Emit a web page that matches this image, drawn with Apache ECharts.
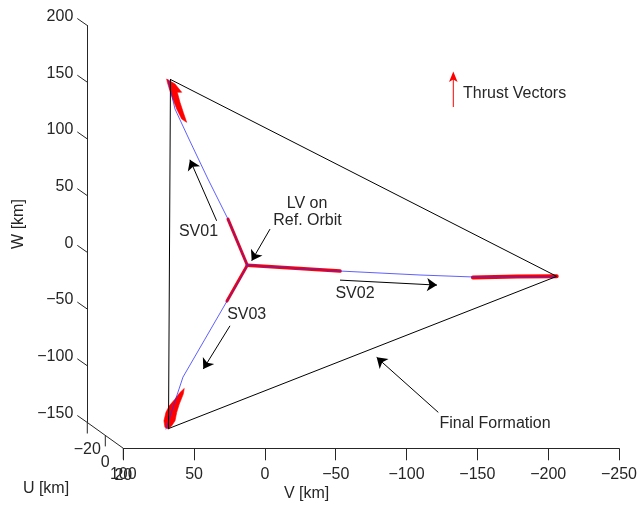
<!DOCTYPE html>
<html><head><meta charset="utf-8">
<script src="https://cdn.jsdelivr.net/npm/echarts@6/dist/echarts.min.js"></script>
<style>html,body{margin:0;padding:0;background:#fff}#c{width:640px;height:508px}</style>
</head><body><div id="c"></div>
<script>
// ---- axis ticks ----
const vTicks = [100, 50, 0, -50, -100, -150, -200, -250];
const wTicks = [200, 150, 100, 50, 0, -50, -100, -150];
const uTicks = [-20, 0, 20];

// ---- trajectories [V, W] km (seen on the U = 0 plane) ----
const sv01Path = [[0,0],[13.6,40.7],[27.7,76],[41.1,111.3],[50.9,137.7],[55.8,163.3]];
const sv02Path = [[0,0],[-65.3,-5.1],[-121.6,-8.6],[-160.4,-10.4],[-217.9,-9.8]];
const sv03Path = [[0,0],[5.1,-12.2],[14.3,-31.6],[29.8,-65.1],[45.3,-98.6],[51.6,-122.4],[57.3,-144.4]];

// ---- final formation ----
const formation = [[54.1,163.8],[-217.9,-9.8],[55.5,-144],[54.1,163.8]];

// ---- thrust vectors ----
const sv01Burn = [[0,0],[13.6,40.7]];
const sv02Burn = [[0,0],[-65.3,-5.1]];
const sv03Burn = [[0,0],[14.3,-31.6]];
const sv02FinalBurn = [[-158.9,-10.8],[-190,-9.9],[-217.9,-9.6]];
const sv01FinalBurn = [[56.8,164.2],[50.9,159.8],[46.2,152.5],[49.3,152.5],[47.4,143.6],[45.1,134.8],
  [42.7,126],[46.2,128.9],[49.7,137.7],[52.5,146.6],[54.9,155.4],[56.3,161.3]];
const sv03FinalBurn = [[44.4,-108.6],[45.1,-113.6],[47.9,-122.4],[49.7,-129.7],[50.9,-137.1],[53.2,-141.5],
  [55.6,-144.4],[58,-142.9],[58.7,-137.1],[57.3,-129.7],[54.9,-123.9],[50.9,-118],[47.4,-112.1]];

// ---- annotation arrows [from, to] ----
const arrows = [
  [[21.6,39.2],[40.4,93]],
  [[12.2,-53.4],[31,-91.5]],
  [[-16,31.9],[-3.1,4]],
  [[-65.3,-13.1],[-133.6,-17.5]],
  [[-134.5,-129.7],[-91.1,-81.2]]
];

const AX = '#262626';
const FF = '"Liberation Sans", Arial, Helvetica, sans-serif';
const FONT = '16px ' + FF;
const UX = 0.9, UY = 0.645;
const minus = v => String(v).replace('-', '\u2212');

function pathSeries(data, color, width, z, opacity) {
  return {type:'line', xAxisIndex:0, yAxisIndex:0, data, symbol:'none', silent:true, z,
    lineStyle:{color, width, opacity: opacity == null ? 1 : opacity, cap:'round', join:'round'}};
}
function polySeries(points, color, z) {
  return {type:'custom', xAxisIndex:0, yAxisIndex:0, data:[[0,0]], clip:false, silent:true, z,
    renderItem:(p, api) => ({type:'polygon', shape:{points: points.map(pt => api.coord(pt))},
      style:{fill:color, stroke:color, lineWidth:0.6}})};
}

const chart = echarts.init(document.getElementById('c'), null, {renderer:'canvas'});
chart.setOption({
  animation:false,
  backgroundColor:'#fff',
  grid:[
    {left:105.3, top:38.4, width:497, height:397},
    {left:123.3, top:400, width:497, height:48.3},
    {left:87.3, top:25.5, width:10, height:397}
  ],
  xAxis:[
    {gridIndex:0, type:'value', min:-250, max:100, inverse:true, show:false},
    {gridIndex:1, type:'value', min:-250, max:100, interval:50, inverse:true, position:'bottom',
      axisLine:{show:true, lineStyle:{color:AX, width:1}},
      axisTick:{show:true, length:12, lineStyle:{color:AX, width:1}},
      splitLine:{show:false},
      axisLabel:{color:AX, fontSize:16, fontFamily:FF, margin:18, formatter:minus, showMinLabel:true, showMaxLabel:true},
      name:'V [km]', nameLocation:'middle', nameGap:37,
      nameTextStyle:{color:AX, fontSize:16, fontFamily:FF, padding:[0,129,0,0]}},
    {gridIndex:2, type:'value', min:0, max:1, show:false}
  ],
  yAxis:[
    {gridIndex:0, type:'value', min:-150, max:200, show:false},
    {gridIndex:1, type:'value', min:0, max:1, show:false},
    {gridIndex:2, type:'value', min:-150, max:200, interval:50, position:'left',
      axisLine:{show:true, lineStyle:{color:AX, width:1}},
      axisTick:{show:false}, splitLine:{show:false},
      axisLabel:{color:AX, fontSize:16, fontFamily:FF, margin:14, verticalAlign:'bottom', lineHeight:18,
        formatter:minus, showMinLabel:true, showMaxLabel:true},
      name:'W [km]', nameLocation:'middle', nameGap:61,
      nameTextStyle:{color:AX, fontSize:16, fontFamily:FF}}
  ],
  graphic:[
    {type:'text', x:198.5, y:231.5, style:{text:'SV01', font:FONT, fill:AX, align:'center', verticalAlign:'middle'}},
    {type:'text', x:246.7, y:315, style:{text:'SV03', font:FONT, fill:AX, align:'center', verticalAlign:'middle'}},
    {type:'text', x:355, y:294, style:{text:'SV02', font:FONT, fill:AX, align:'center', verticalAlign:'middle'}},
    {type:'text', x:307, y:204, style:{text:'LV on', font:FONT, fill:AX, align:'center', verticalAlign:'middle'}},
    {type:'text', x:307.5, y:221, style:{text:'Ref. Orbit', font:FONT, fill:AX, align:'center', verticalAlign:'middle'}},
    {type:'text', x:495, y:424, style:{text:'Final Formation', font:FONT, fill:AX, align:'center', verticalAlign:'middle'}},
    {type:'text', x:46, y:489, style:{text:'U [km]', font:FONT, fill:AX, align:'center', verticalAlign:'middle'}},
    {type:'line', shape:{x1:453.3, y1:107, x2:453.3, y2:78}, style:{stroke:'#ff0000', lineWidth:1}},
    {type:'polygon', shape:{points:[[449,82],[453.3,71.5],[457.6,82],[453.3,79.5]]}, style:{fill:'#ff0000'}},
    {type:'text', x:463, y:93.5, style:{text:'Thrust Vectors', font:FONT, fill:AX, align:'left', verticalAlign:'middle'}}
  ],
  series:[
    // thrust vectors
    pathSeries(sv01Burn, '#ff0000', 3, 2),
    pathSeries(sv03Burn, '#ff0000', 3, 2),
    pathSeries(sv02Burn, '#ff0000', 3.5, 2),
    pathSeries(sv02FinalBurn, '#ff0000', 4, 2),
    polySeries(sv01FinalBurn, '#ff0000', 2),
    polySeries(sv03FinalBurn, '#ff0000', 2),
    // trajectories
    pathSeries(sv01Path, '#2a2aff', 1, 3, 0.75),
    pathSeries(sv02Path, '#2a2aff', 1, 3, 0.75),
    pathSeries(sv03Path, '#2a2aff', 1, 3, 0.75),
    // final formation
    pathSeries(formation, '#000000', 1, 4),
    // annotation arrows
    {type:'lines', coordinateSystem:'cartesian2d', xAxisIndex:0, yAxisIndex:0, silent:true, z:5,
      symbol:['none','arrow'], symbolSize:10,
      lineStyle:{color:'#000', width:1, opacity:1},
      data: arrows.map(a => ({coords:a}))},
    // W axis slanted ticks (drawn at U = -20, V = 100)
    {type:'custom', xAxisIndex:0, yAxisIndex:0, clip:false, silent:true, z:6,
      data: wTicks.map(w => [100, w]),
      renderItem:(p, api) => {
        const c = api.coord([api.value(0), api.value(1)]);
        const bx = c[0] - 20*UX, by = c[1] - 20*UY;
        return {type:'line', shape:{x1:bx, y1:by, x2:bx-10, y2:by-7}, style:{stroke:AX, lineWidth:1}};
      }},
    // U axis (diagonal) with ticks and labels
    {type:'custom', xAxisIndex:0, yAxisIndex:0, clip:false, silent:true, z:6,
      data: uTicks.map(u => [u]),
      renderItem:(p, api) => {
        const u = api.value(0);
        const c = api.coord([100, -150]);
        const bx = c[0] + u*UX, by = c[1] + u*UY;
        const kids = [
          {type:'line', shape:{x1:bx, y1:by, x2:bx, y2:by+11}, style:{stroke:AX, lineWidth:1}},
          {type:'text', style:{text:minus(u), x:bx, y:by+27, font:FONT, fill:AX, align:'center', verticalAlign:'middle'}}
        ];
        if (p.dataIndex === 0) {
          const lo = uTicks[0], hi = uTicks[uTicks.length-1];
          kids.push({type:'line', shape:{x1:c[0]+lo*UX, y1:c[1]+lo*UY, x2:c[0]+hi*UX, y2:c[1]+hi*UY},
            style:{stroke:AX, lineWidth:1}});
        }
        return {type:'group', children:kids};
      }}
  ]
});
</script>
</body></html>
